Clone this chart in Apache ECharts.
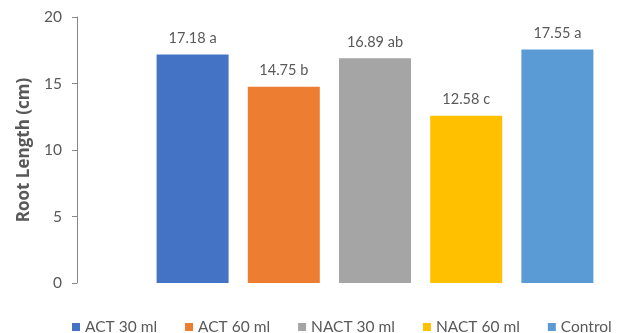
<!DOCTYPE html>
<html>
<head>
<meta charset="utf-8">
<script src="https://cdn.jsdelivr.net/npm/echarts@6/dist/echarts.min.js"></script>
<style>
  html, body { margin: 0; padding: 0; background: #fff; }
  #chart { width: 628px; height: 333px; }
</style>
</head>
<body>
<div id="chart"></div>
<script>
// Root length by treatment, with significance letters
const treatments = ['ACT 30 ml', 'ACT 60 ml', 'NACT 30 ml', 'NACT 60 ml', 'Control'];
const rootLength = [17.18, 14.75, 16.89, 12.58, 17.55];
const letters = ['a', 'b', 'ab', 'c', 'a'];
const colors = ['#4472C4', '#ED7D31', '#A5A5A5', '#FFC000', '#5B9BD5'];
const yTicks = { min: 0, max: 20, interval: 5 };

const textColor = '#595959';
const fontFamily = 'Lato, "Open Sans", sans-serif';

// One series per treatment so each gets its own legend entry; they share a stack
// so every bar sits centred in its own category slot.
const series = treatments.map((name, i) => ({
  name: name,
  type: 'bar',
  stack: 'all',
  barWidth: 72,
  itemStyle: { color: colors[i] },
  data: treatments.map((_, j) => (j === i ? rootLength[i] : null)),
  label: {
    show: true,
    position: 'top',
    distance: 9,
    color: textColor,
    fontFamily: fontFamily,
    fontSize: 14.5,
    formatter: p => p.value.toFixed(2) + ' ' + letters[i]
  }
}));

const chart = echarts.init(document.getElementById('chart'), null, { renderer: 'canvas' });
chart.setOption({
  animation: false,
  backgroundColor: '#ffffff',
  grid: { left: 147, right: 25, top: 17, bottom: 50 },
  legend: {
    data: treatments,
    left: 67,
    top: 314,
    icon: 'rect',
    itemWidth: 8,
    itemHeight: 8,
    itemGap: 28,
    textStyle: { color: textColor, fontFamily: fontFamily, fontSize: 15.5 }
  },
  xAxis: {
    type: 'category',
    data: treatments,
    show: false
  },
  yAxis: {
    type: 'value',
    min: yTicks.min,
    max: yTicks.max,
    interval: yTicks.interval,
    offset: 70,
    name: 'Root Length (cm)',
    nameLocation: 'middle',
    nameRotate: 90,
    nameGap: 43,
    nameTextStyle: { color: textColor, fontFamily: '"Open Sans", Lato, sans-serif', fontSize: 17, fontWeight: 'bold' },
    axisLine: { show: true, lineStyle: { color: '#868686', width: 1 } },
    axisTick: { show: true, length: 5, lineStyle: { color: '#868686' } },
    axisLabel: { margin: 15, color: textColor, fontFamily: fontFamily, fontSize: 15.5 },
    splitLine: { show: false }
  },
  series: series
});
</script>
</body>
</html>
